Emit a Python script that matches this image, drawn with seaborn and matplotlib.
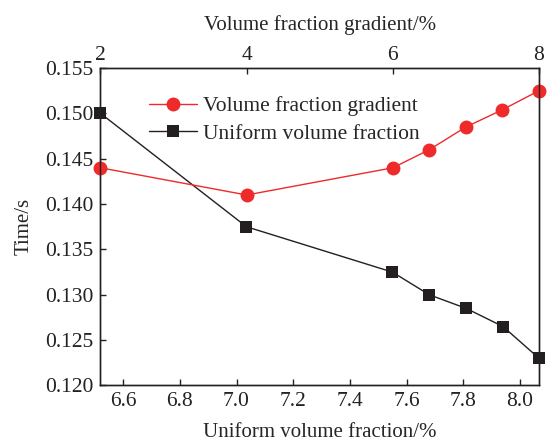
import seaborn as sns
import matplotlib.pyplot as plt
import pandas as pd

# Data
gradient_pct = [2, 4, 6, 6.5, 7, 7.5, 8]
gradient_time = [0.144, 0.141, 0.144, 0.146, 0.1485, 0.1504, 0.1525]

uniform_pct = [6.52, 7.035, 7.55, 7.68, 7.81, 7.94, 8.067]
uniform_time = [0.150, 0.1375, 0.1325, 0.130, 0.1285, 0.1265, 0.123]

y_ticks = [0.120, 0.125, 0.130, 0.135, 0.140, 0.145, 0.150, 0.155]
bottom_ticks = [6.6, 6.8, 7.0, 7.2, 7.4, 7.6, 7.8, 8.0]
top_ticks = [2, 4, 6, 8]

df_grad = pd.DataFrame({"x": gradient_pct, "t": gradient_time})
df_unif = pd.DataFrame({"x": uniform_pct, "t": uniform_time})

sns.set_theme(style="ticks")
plt.rcParams["font.family"] = ["Liberation Serif", "DejaVu Serif"]
plt.rcParams["xtick.direction"] = "in"
plt.rcParams["ytick.direction"] = "in"

fig = plt.figure(figsize=(5.47, 4.43), dpi=100)
ax = fig.add_axes([0.1837, 0.1298, 0.8017, 0.7167])
ax_top = ax.twiny()

# === Uniform volume fraction (bottom axis) ===
sns.lineplot(
    data=df_unif, x="x", y="t", ax=ax,
    color="#231f20", linewidth=1.0,
    marker="s", markersize=8.5, markeredgewidth=0,
    label="Uniform volume fraction", legend=False, clip_on=False,
)

# === Volume fraction gradient (top axis) ===
sns.lineplot(
    data=df_grad, x="x", y="t", ax=ax_top,
    color="#ee2a2a", linewidth=1.0,
    marker="o", markersize=10, markeredgewidth=0,
    label="Volume fraction gradient", legend=False, clip_on=False,
)

ax.set_xlim(6.52, 8.067)
ax.set_ylim(0.120, 0.155)
ax.set_xticks(bottom_ticks)
ax.set_xticklabels([f"{v:.1f}" for v in bottom_ticks])
ax.set_yticks(y_ticks)
ax.set_yticklabels([f"{v:.3f}" for v in y_ticks])
ax.set_xlabel("Uniform volume fraction/%", fontsize=15, labelpad=8)
ax.set_ylabel("Time/s", fontsize=15, labelpad=8)
ax.tick_params(axis="both", labelsize=15.5, length=4, width=1,
               colors="#222222", pad=5)

ax_top.set_xlim(2, 8)
ax_top.set_xticks(top_ticks)
ax_top.set_xlabel("Volume fraction gradient/%", fontsize=15, labelpad=12)
ax_top.tick_params(axis="x", labelsize=15.5, length=4, width=1,
                   colors="#222222", pad=2)
ax_top.set_ylabel("")

for a in (ax, ax_top):
    for s in a.spines.values():
        s.set_linewidth(1.0)
        s.set_color("#222222")

h1, l1 = ax_top.get_legend_handles_labels()
h2, l2 = ax.get_legend_handles_labels()
ax_top.legend(
    h1 + h2, l1 + l2,
    loc="upper left", bbox_to_anchor=(0.092, 0.938),
    frameon=False, fontsize=15.5, handlelength=2.2,
    handletextpad=0.3, labelspacing=0.35, borderaxespad=0,
)

plt.savefig("out.png", dpi=100)
